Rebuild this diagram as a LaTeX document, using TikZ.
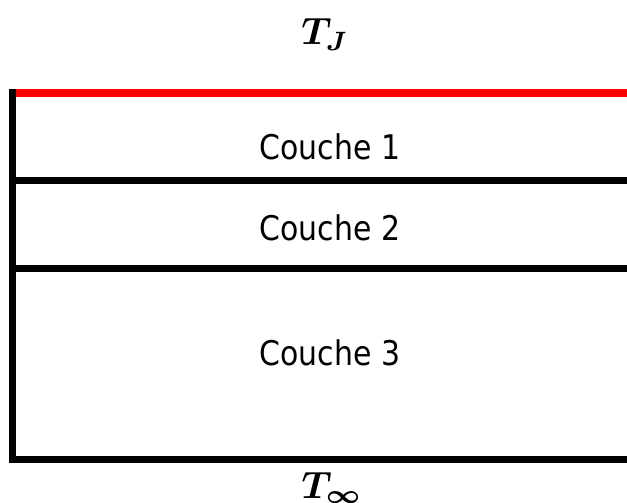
\documentclass[tikz,border=0pt]{standalone}
\usepackage{amsmath}
\usepackage{amssymb}
\usepackage{fontspec}
\setmainfont{DejaVu Sans}[FakeStretch=0.88]
\usetikzlibrary{positioning}

\begin{document}
\begin{tikzpicture}[
  x=1pt, y=1pt,
  layer/.style={font=\fontsize{34}{40}\selectfont, anchor=base, inner sep=0pt},
  temp/.style={scale=3.8, transform shape, anchor=base, inner sep=0pt},
  wall/.style={line width=7pt},
  hot/.style={line width=8pt, red}
]
\useasboundingbox (0,0) rectangle (627,-503);

% Surface at T_J
\coordinate (topL) at (13,-93.3);
\coordinate (topR) at (627,-93.3);
\draw[hot] (topL) -- (topR);

% Interfaces between layers
\draw[wall] (9,-180.5) -- (627,-180.5);
\draw[wall] (9,-268.3) -- (627,-268.3);
\draw[wall] (9,-459.5) -- (627,-459.5);

% Left wall
\draw[wall] (12.5,-89.3) -- (12.5,-463);

% Layers
\node[layer] (c1) at (330,-159) {Couche 1};
\node[layer] (c2) at (330,-240) {Couche 2};
\node[layer] (c3) at (330,-365) {Couche 3};

% Temperatures
\node[temp] (tj) at (325,-45) {$\boldsymbol{T_J}$};
\node[temp] (tinf) at (332,-498) {$\boldsymbol{T_\infty}$};
\end{tikzpicture}
\end{document}
